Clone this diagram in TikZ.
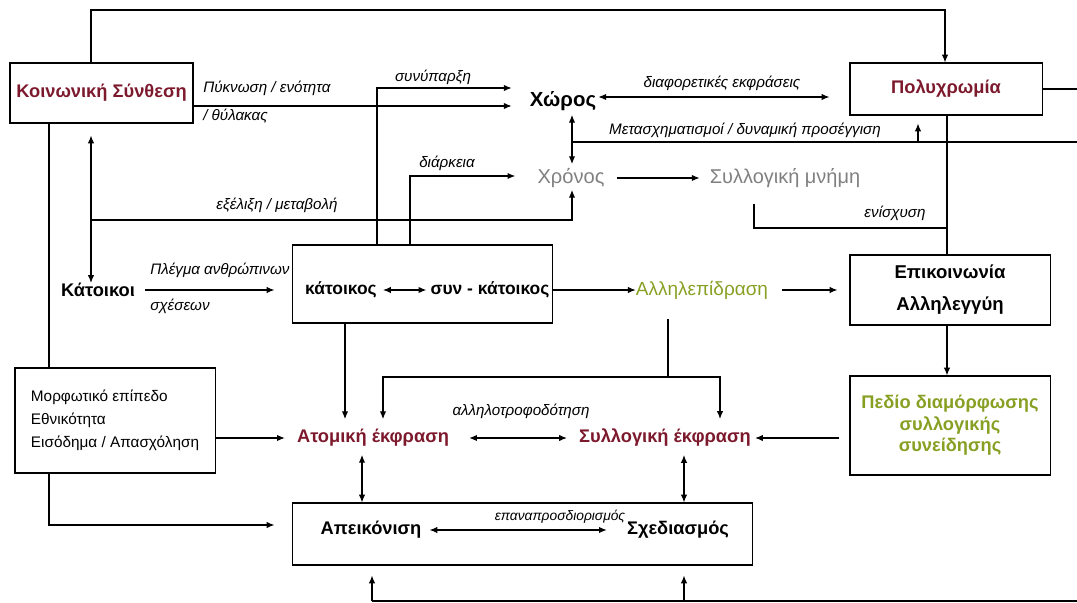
\documentclass[tikz,border=0pt]{standalone}
\usepackage{fontspec}
\setmainfont{Liberation Sans}
\usetikzlibrary{arrows.meta,calc}
\definecolor{kred}{RGB}{125,25,45}
\definecolor{kgreen}{RGB}{135,160,35}
\definecolor{kgray}{RGB}{128,128,128}
\begin{document}
\begin{tikzpicture}[x=0.025cm,y=-0.025cm,
  box/.style={draw=black, line width=0.75pt, inner sep=0pt},
  lbl/.style={font=\fontsize{10.8}{12}\selectfont\itshape, inner sep=0pt},
  big/.style={font=\fontsize{13}{15}\selectfont\bfseries, inner sep=0pt},
  mid/.style={font=\fontsize{12.4}{15}\selectfont\bfseries, inner sep=0pt},
  ln/.style={line width=0.75pt},
  arr/.style={ln, -{Latex[length=5.5pt,width=4.5pt]}},
  barr/.style={ln, {Latex[length=5.5pt,width=4.5pt]}-{Latex[length=5.5pt,width=4.5pt]}}]
\useasboundingbox (0,0) rectangle (1077,603);

% nodes
\node[box, big, text=kred, minimum width=4.575cm, minimum height=1.5cm] (ks) at (101.5,93) {Κοινωνική Σύνθεση};
\node[box, big, text=kred, minimum width=4.8cm, minimum height=1.3cm] (poly) at (946,89) {Πολυχρωμία};
\node[font=\fontsize{14.5}{16}\selectfont\bfseries, inner sep=0pt] (xoros) at (563,101) {Χώρος};
\node[font=\fontsize{14.3}{16}\selectfont, text=kgray, inner sep=0pt] (xronos) at (571,178) {Χρόνος};
\node[font=\fontsize{14.2}{16}\selectfont, text=kgray, inner sep=0pt] (mnimi) at (785,178) {Συλλογική μνήμη};
\node[big] (katoikoi) at (98,290) {Κάτοικοι};
\node[box, minimum width=6.475cm, minimum height=1.95cm] (katbox) at (422.5,284) {};
\node[mid] (katoikos) at (341,290) {κάτοικος};
\node[mid] (synkat) at (490,290) {συν - κάτοικος};
\node[font=\fontsize{13.5}{15}\selectfont, text=kgreen, inner sep=0pt] (allil) at (702,290) {Αλληλεπίδραση};
\node[box, font=\fontsize{13.2}{22.8}\selectfont\bfseries, align=center, minimum width=5cm, minimum height=1.75cm] (epik) at (950,290) {Επικοινωνία\\Αλληλεγγύη};
\node[box, font=\fontsize{13}{15.3}\selectfont\bfseries, text=kgreen, align=center, minimum width=5cm, minimum height=2.475cm] (pedio) at (950,425.5) {Πεδίο διαμόρφωσης\\συλλογικής\\συνείδησης};
\node[box, font=\fontsize{10.9}{16.4}\selectfont, align=left, minimum width=5cm, minimum height=2.625cm] (morph) at (115,420.5) {Μορφωτικό επίπεδο\\Εθνικότητα\\Εισόδημα / Απασχόληση};
\node[big, text=kred] (atomiki) at (373,438) {Ατομική έκφραση};
\node[big, text=kred] (syllogiki) at (665,438) {Συλλογική έκφραση};
\node[box, minimum width=11.475cm, minimum height=1.55cm] (apbox) at (522.5,534) {};
\node[big] (apeik) at (371,530) {Απεικόνιση};
\node[big] (sxed) at (678,530) {Σχεδιασμός};

% labels
\node[lbl, anchor=west] (lPyk) at (203,88) {Πύκνωση / ενότητα};
\node[lbl, anchor=west] (lThy) at (203,116) {/ θύλακας};
\node[lbl] (lSyn) at (433,77) {συνύπαρξη};
\node[lbl] (lDiar) at (447,163) {διάρκεια};
\node[lbl] (lExel) at (277,205) {εξέλιξη / μεταβολή};
\node[lbl] (lDiaf) at (722,83) {διαφορετικές εκφράσεις};
\node[lbl] (lMet) at (745,130) {Μετασχηματισμοί / δυναμική προσέγγιση};
\node[lbl] (lEnis) at (895,213) {ενίσχυση};
\node[lbl, anchor=west] (lPleg) at (150,270) {Πλέγμα ανθρώπινων};
\node[lbl, anchor=west] (lSxes) at (150,306) {σχέσεων};
\node[lbl] (lAll) at (521,411) {αλληλοτροφοδότηση};
\node[lbl, font=\fontsize{9.8}{12}\selectfont\itshape] (lEpan) at (560,517) {επαναπροσδιορισμός};

% helper coordinates
\coordinate (t1) at (91,10);
\coordinate (t2) at (945,10);
\coordinate (k1) at (300,106);
\coordinate (s1) at (377,88);
\coordinate (d1) at (410,176);
\coordinate (e1) at (91,220);
\coordinate (m1) at (572,142);
\coordinate (re1) at (1077,142);
\coordinate (pa) at (918,142);
\coordinate (dd) at (700,97);
\coordinate (v1) at (947,228);
\coordinate (n1) at (754,228);
\coordinate (a1) at (668,377);
\coordinate (a2) at (383,377);
\coordinate (a3) at (720,377);
\coordinate (k2) at (345,400);
\coordinate (x49) at (49,300);
\coordinate (b1) at (49,525);
\coordinate (u1) at (362,480);
\coordinate (u2) at (684,480);
\coordinate (bt1) at (372,601);
\coordinate (bt2) at (684,601);
\coordinate (bt3) at (1077,601);

% connectors
\draw[arr] (ks.north -| t1) -- (t1) -- (t2) -- (poly.north -| t2);
\draw[arr, shorten >=0.45cm] (ks.east |- k1) -- (xoros.west |- k1);
\draw[arr, shorten >=0.45cm] (katbox.north -| s1) -- (s1) -- (xoros.west |- s1);
\draw[arr, shorten >=0.55cm] (katbox.north -| d1) -- (d1) -- (xronos.west |- d1);
\draw[barr, shorten <=0.3cm] (ks.south -| e1) -- (katoikoi.north -| e1);
\draw[arr, shorten >=0.05cm] (e1) -- (e1 -| m1) -- (xronos.south -| m1);
\draw[barr, shorten <=0.1cm, shorten >=0.1cm] (xoros.south -| m1) -- (xronos.north -| m1);
\draw[ln] (m1) -- (re1);
\draw[arr, shorten >=0.2cm] (pa) -- (poly.south -| pa);
\draw[barr, shorten <=0.05cm, shorten >=0.5cm] (xoros.east |- dd) -- (poly.west |- dd);
\draw[ln] (poly.east) -- (poly.east -| re1);
\draw[ln] (poly.south -| v1) -- (epik.north -| v1);
\draw[ln, shorten <=0.4cm] (mnimi.south -| n1) -- (n1) -- (v1);
\draw[arr, shorten <=0.3cm, shorten >=0.25cm] (xronos.east) -- (mnimi.west);
\draw[arr, shorten <=0.25cm, shorten >=0.45cm] (katoikoi.east) -- (katbox.west |- katoikoi.east);
\draw[barr, shorten <=0.15cm, shorten >=0.1cm] (katoikos.east) -- (synkat.west);
\draw[arr] (katbox.east |- allil.west) -- (allil.west);
\draw[arr, shorten <=0.35cm, shorten >=0.3cm] (allil.east) -- (epik.west |- allil.east);
\draw[arr] (epik.south -| v1) -- (pedio.north -| v1);
\draw[arr, shorten <=0.25cm, shorten >=0.1cm] (pedio.west |- syllogiki.east) -- (syllogiki.east);
\draw[ln, shorten <=0.5cm] (allil.south -| a1) -- (a1);
\draw[arr, shorten >=0.25cm] (a1) -- (a2) -- (atomiki.north -| a2);
\draw[arr, shorten >=0.25cm] (a1) -- (a3) -- (syllogiki.north -| a3);
\draw[arr, shorten >=0.25cm] (katbox.south -| k2) -- (atomiki.north -| k2);
\draw[arr, shorten >=0.3cm] (morph.east |- atomiki.west) -- (atomiki.west);
\draw[ln] (ks.south -| x49) -- (morph.north -| x49);
\draw[arr, shorten >=0.45cm] (morph.south -| b1) -- (b1) -- (apbox.west |- b1);
\draw[barr, shorten <=0.5cm, shorten >=0.3cm] (atomiki.east) -- (syllogiki.west);
\draw[barr, shorten <=0.2cm] (atomiki.south -| u1) -- (apbox.north -| u1);
\draw[barr, shorten <=0.2cm] (syllogiki.south -| u2) -- (apbox.north -| u2);
\draw[barr, shorten <=0.2cm, shorten >=0.5cm] (apeik.east) -- (sxed.west);
\draw[ln] (bt1) -- (bt3);
\draw[arr, shorten >=0.25cm] (bt1) -- (apbox.south -| bt1);
\draw[arr, shorten >=0.25cm] (bt2) -- (apbox.south -| bt2);
\end{tikzpicture}
\end{document}
